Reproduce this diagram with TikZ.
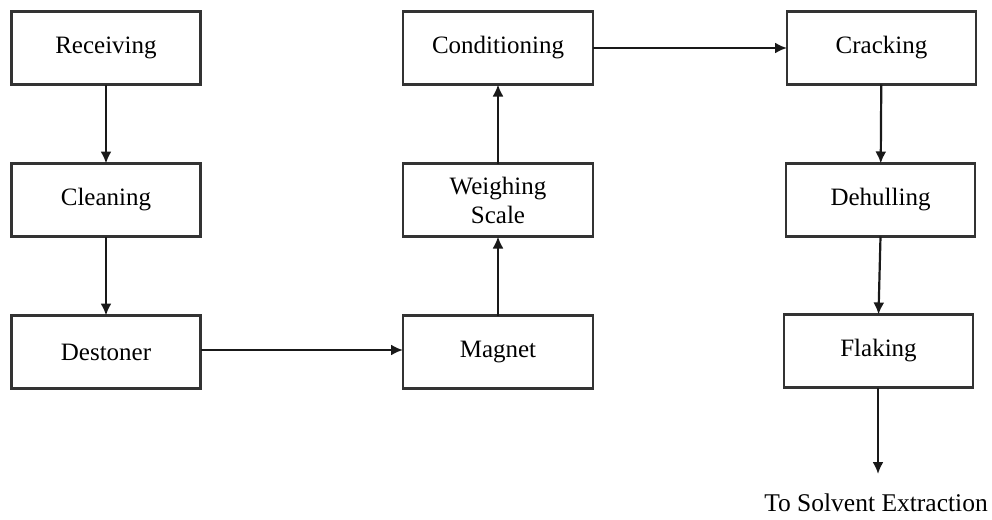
\documentclass[tikz,border=0pt]{standalone}
\usepackage{fontspec}
\setmainfont{Liberation Serif}
\usetikzlibrary{arrows.meta}
\begin{document}
\begin{tikzpicture}[x=1pt,y=-1pt,
  stage/.style={draw=black!80,line width=2.1pt,fill=white,minimum width=189pt,minimum height=73pt,inner sep=0pt,outer sep=0pt,align=center,font=\fontsize{25}{29}\selectfont},
  flow/.style={draw=black!90,line width=2.2pt,-{Latex[length=12pt,width=11pt]}}]
\useasboundingbox (0,0) rectangle (992,519);
\node[stage] (rec) at (106,48) {Receiving};
\node[stage] (cle) at (106,200) {Cleaning};
\node[stage] (des) at (106,352) {Destoner};
\node[stage,minimum width=190pt] (con) at (498,48) {Conditioning};
\node[stage,minimum width=190pt] (wei) at (498,200) {Weighing\\Scale};
\node[stage,minimum width=190pt] (mag) at (498,352) {Magnet};
\node[stage] (cra) at (881.5,48) {Cracking};
\node[stage] (deh) at (880.5,200) {Dehulling};
\node[stage] (fla) at (878.5,351) {Flaking};
\coordinate (end) at (878,474);
\node[font=\fontsize{25.5}{30}\selectfont,anchor=center,inner sep=0pt] (sol) at (876,503) {To Solvent Extraction};
\draw[flow] (rec) -- (cle);
\draw[flow] (cle) -- (des);
\draw[flow] (des.east |- 0,350) -- (mag.west |- 0,350);
\draw[flow] (mag) -- (wei);
\draw[flow] (wei) -- (con);
\draw[flow] (con) -- (cra);
\draw[flow] (cra) -- (deh);
\draw[flow] (deh.south) -- (fla.north);
\draw[flow] (fla.south -| end) -- (end);
\end{tikzpicture}
\end{document}
